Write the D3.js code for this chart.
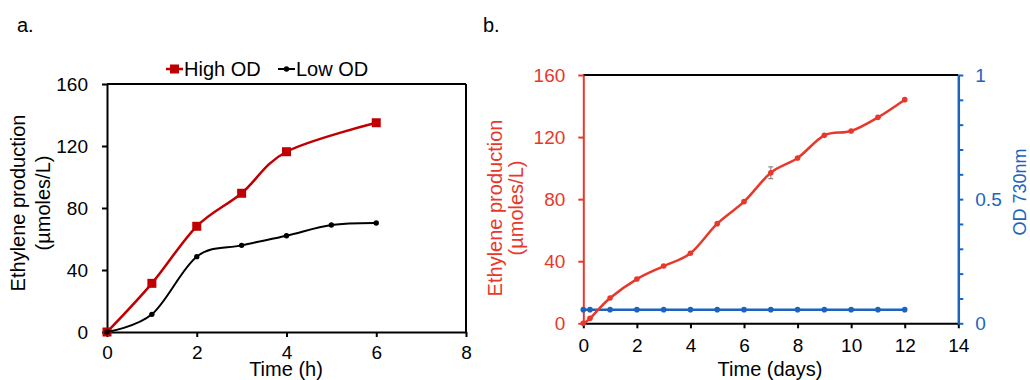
<!DOCTYPE html>
<html><head><meta charset="utf-8">
<script src="https://cdn.jsdelivr.net/npm/d3@7"></script>
<style>
body{margin:0;background:#fff;}
text{font-family:"Liberation Sans",Arial,sans-serif;}
</style></head>
<body><svg id="c" width="1030" height="380"></svg>
<script>
// ---- Data: panel a ----
const timeA = [0, 1, 2, 3, 4, 6];
const highOD = [0, 31.4, 68.2, 89.5, 116.3, 135];
const timeLow = [0, 1, 2, 3, 4, 5, 6];
const lowOD = [0, 11.4, 48.6, 55.9, 62.1, 69, 70.3];
const xTicksA = [0, 2, 4, 6, 8];
const yTicksA = [0, 40, 80, 120, 160];
// ---- Data: panel b ----
const daysB = [0, 0.25, 1, 2, 3, 4, 5, 6, 7, 8, 9, 10, 11, 12];
const ethyleneB = [0, 3.2, 16.3, 28.5, 36.9, 45.1, 64.2, 78.4, 97.0, 106.5, 121.1, 123.9, 132.7, 144.1];
const ethyleneErrB = [0, 0, 0, 0, 0, 0, 0, 0, 3.8, 0, 0, 0, 0, 0];
const odB = [0.055, 0.055, 0.055, 0.055, 0.055, 0.055, 0.055, 0.055, 0.055, 0.055, 0.055, 0.055, 0.055, 0.055];
const xTicksB = [0, 2, 4, 6, 8, 10, 12, 14];
const yTicksB = [0, 40, 80, 120, 160];
const odTicks = [0, 0.1, 0.2, 0.3, 0.4, 0.5, 0.6, 0.7, 0.8, 0.9, 1];
const odLabels = {0: "0", 0.5: "0.5", 1: "1"};

const svg = d3.select("#c");
const FS = 19;
const redA = "#c00000", redB = "#e8382b", blueB = "#1a64c0";

// ================= Panel a =================
const xA = d3.scaleLinear().domain([0, 8]).range([107, 466]);
const yA = d3.scaleLinear().domain([0, 160]).range([332, 84]);
const gA = svg.append("g");

gA.append("text").attr("x", 17).attr("y", 32).attr("font-size", 20).text("a.");

// frame top/right
gA.append("line").attr("x1", xA(0)).attr("x2", xA(8)).attr("y1", yA(160)).attr("y2", yA(160)).attr("stroke", "#000").attr("stroke-width", 2);
gA.append("line").attr("x1", xA(8)).attr("x2", xA(8)).attr("y1", yA(160)).attr("y2", yA(0)).attr("stroke", "#000").attr("stroke-width", 2);

const axA_x = gA.append("g").attr("transform", `translate(0,${yA(0)})`)
  .call(d3.axisBottom(xA).tickValues(xTicksA).tickSize(5).tickSizeOuter(0).tickPadding(9).tickFormat(d3.format("d")));
const axA_y = gA.append("g").attr("transform", `translate(${xA(0)},0)`)
  .call(d3.axisLeft(yA).tickValues(yTicksA).tickSize(5).tickSizeOuter(0).tickPadding(14).tickFormat(d3.format("d")));
[axA_x, axA_y].forEach(a => {
  a.select(".domain").attr("stroke", "#000").attr("stroke-width", 2);
  a.selectAll(".tick line").attr("stroke", "#000").attr("stroke-width", 2);
  a.selectAll(".tick text").attr("font-size", FS).attr("fill", "#000").attr("font-family", "Liberation Sans, Arial, sans-serif");
});

gA.append("text").attr("x", 286).attr("y", 376).attr("text-anchor", "middle").attr("font-size", 20).text("Time (h)");
gA.append("text").attr("transform", "translate(24.5,203) rotate(-90)").attr("text-anchor", "middle").attr("font-size", 20).text("Ethylene production");
gA.append("text").attr("transform", "translate(50,203) rotate(-90)").attr("text-anchor", "middle").attr("font-size", 20).text("(µmoles/L)");

const curve = d3.curveCatmullRom.alpha(0);
const lineHigh = d3.line().x((d, i) => xA(timeA[i])).y(d => yA(d)).curve(curve);
const lineLow = d3.line().x((d, i) => xA(timeLow[i])).y(d => yA(d)).curve(curve);
gA.append("path").attr("d", lineHigh(highOD)).attr("fill", "none").attr("stroke", redA).attr("stroke-width", 2.5);
gA.selectAll(".sqH").data(highOD).join("rect").attr("class", "sqH")
  .attr("x", (d, i) => xA(timeA[i]) - 4.5).attr("y", d => yA(d) - 4.5)
  .attr("width", 9).attr("height", 9).attr("fill", redA);
gA.append("path").attr("d", lineLow(lowOD)).attr("fill", "none").attr("stroke", "#000").attr("stroke-width", 2);
gA.selectAll(".dotL").data(lowOD).join("circle").attr("class", "dotL")
  .attr("cx", (d, i) => xA(timeLow[i])).attr("cy", d => yA(d)).attr("r", 2.7).attr("fill", "#000");

// legend
const lg = gA.append("g");
lg.append("line").attr("x1", 166).attr("x2", 183).attr("y1", 69).attr("y2", 69).attr("stroke", redA).attr("stroke-width", 2.5);
lg.append("rect").attr("x", 170).attr("y", 64.5).attr("width", 9).attr("height", 9).attr("fill", redA);
lg.append("text").attr("x", 184).attr("y", 76).attr("font-size", 20).text("High OD");
lg.append("line").attr("x1", 278).attr("x2", 295).attr("y1", 69).attr("y2", 69).attr("stroke", "#000").attr("stroke-width", 2);
lg.append("circle").attr("cx", 286.5).attr("cy", 69).attr("r", 2.7).attr("fill", "#000");
lg.append("text").attr("x", 296).attr("y", 76).attr("font-size", 20).text("Low OD");

// ================= Panel b =================
const xB = d3.scaleLinear().domain([0, 14]).range([583.3, 958.3]);
const yB = d3.scaleLinear().domain([0, 160]).range([323.3, 75]);
const yB2 = d3.scaleLinear().domain([0, 1]).range([323.3, 75]);
const gB = svg.append("g");

gB.append("text").attr("x", 483).attr("y", 32).attr("font-size", 20).text("b.");

gB.append("line").attr("x1", xB(0)).attr("x2", xB(14)).attr("y1", yB(160)).attr("y2", yB(160)).attr("stroke", "#000").attr("stroke-width", 2);

const axB_x = gB.append("g").attr("transform", `translate(0,${yB(0)})`)
  .call(d3.axisBottom(xB).tickValues(xTicksB).tickSize(5).tickSizeOuter(0).tickPadding(10).tickFormat(d3.format("d")));
axB_x.select(".domain").attr("stroke", "#000").attr("stroke-width", 2);
axB_x.selectAll(".tick line").attr("stroke", "#000").attr("stroke-width", 2);
axB_x.selectAll(".tick text").attr("font-size", FS).attr("fill", "#000");

const axB_y = gB.append("g").attr("transform", `translate(${xB(0)},0)`)
  .call(d3.axisLeft(yB).tickValues(yTicksB).tickSize(5).tickSizeOuter(0).tickPadding(13).tickFormat(d3.format("d")));
axB_y.select(".domain").attr("stroke", redB).attr("stroke-width", 2);
axB_y.selectAll(".tick line").attr("stroke", redB).attr("stroke-width", 2);
axB_y.selectAll(".tick text").attr("font-size", FS).attr("fill", redB);

const axB_y2 = gB.append("g").attr("transform", `translate(${xB(14)},0)`)
  .call(d3.axisRight(yB2).tickValues(odTicks).tickSize(5).tickSizeOuter(0).tickPadding(12).tickFormat(d => odLabels[d] !== undefined ? odLabels[d] : ""));
axB_y2.select(".domain").attr("stroke", blueB).attr("stroke-width", 2.5);
axB_y2.selectAll(".tick line").attr("stroke", blueB).attr("stroke-width", 2);
axB_y2.selectAll(".tick text").attr("font-size", FS).attr("fill", blueB);

gB.append("text").attr("x", 770).attr("y", 376).attr("text-anchor", "middle").attr("font-size", 20).text("Time (days)");
gB.append("text").attr("transform", "translate(501.5,208) rotate(-90)").attr("text-anchor", "middle").attr("font-size", 20).attr("fill", redB).text("Ethylene production");
gB.append("text").attr("transform", "translate(523,208) rotate(-90)").attr("text-anchor", "middle").attr("font-size", 20).attr("fill", redB).text("(µmoles/L)");
gB.append("text").attr("transform", "translate(1025.5,192) rotate(-90)").attr("text-anchor", "middle").attr("font-size", 18).attr("fill", blueB).text("OD 730nm");

// OD series
const lineOD = d3.line().x((d, i) => xB(daysB[i])).y(d => yB2(d));
gB.append("path").attr("d", lineOD(odB)).attr("fill", "none").attr("stroke", blueB).attr("stroke-width", 2.5);
gB.selectAll(".dotOD").data(odB).join("circle").attr("class", "dotOD")
  .attr("cx", (d, i) => xB(daysB[i])).attr("cy", d => yB2(d)).attr("r", 2.8).attr("fill", blueB);

// ethylene series
const lineEth = d3.line().x((d, i) => xB(daysB[i])).y(d => yB(d)).curve(curve);
gB.append("path").attr("d", lineEth(ethyleneB)).attr("fill", "none").attr("stroke", redB).attr("stroke-width", 2.5);
const errs = ethyleneB.map((v, i) => ({x: daysB[i], v, e: ethyleneErrB[i]})).filter(d => d.e > 0);
const eg = gB.selectAll(".err").data(errs).join("g").attr("class", "err").attr("stroke", "#888").attr("stroke-width", 1.2);
eg.append("line").attr("x1", d => xB(d.x)).attr("x2", d => xB(d.x)).attr("y1", d => yB(d.v - d.e)).attr("y2", d => yB(d.v + d.e));
eg.append("line").attr("x1", d => xB(d.x) - 2.5).attr("x2", d => xB(d.x) + 2.5).attr("y1", d => yB(d.v - d.e)).attr("y2", d => yB(d.v - d.e));
eg.append("line").attr("x1", d => xB(d.x) - 2.5).attr("x2", d => xB(d.x) + 2.5).attr("y1", d => yB(d.v + d.e)).attr("y2", d => yB(d.v + d.e));
gB.selectAll(".dotE").data(ethyleneB).join("circle").attr("class", "dotE")
  .attr("cx", (d, i) => xB(daysB[i])).attr("cy", d => yB(d)).attr("r", 2.8).attr("fill", redB);
</script></body></html>
